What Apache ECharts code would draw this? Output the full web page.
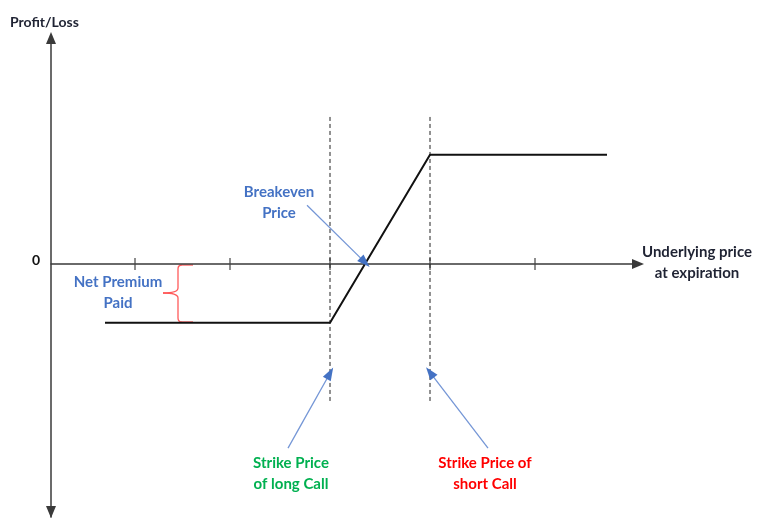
<!DOCTYPE html>
<html>
<head>
<meta charset="utf-8">
<script src="https://cdn.jsdelivr.net/npm/echarts@6/dist/echarts.min.js"></script>
<style>
  html, body { margin: 0; padding: 0; background: #fff; }
  #chart { width: 758px; height: 518px; }
</style>
</head>
<body>
<div id="chart"></div>
<script>
// 牛市看涨价差 payoff
const chart = echarts.init(document.getElementById('chart'));

// payoff line (price, profit/loss)
const payoffPrice = [35, 80, 100, 135.4];
const payoffPL = [-7, -7, 13, 13];
// unlabeled ticks on the price axis
const tickPrices = [41, 60, 80, 100, 121];
// strikes (dashed guides) and their vertical extent
const strikes = [80, 100];
const guideTop = 17.5;
const guideBottom = -16.4;
const breakeven = 87;

const FONT = 'Lato';
const BLUE = '#4472c4';

const payoffData = payoffPrice.map((p, i) => [p, payoffPL[i]]);
const tickData = tickPrices.map(p => [p, 0]);

// annotation arrows: [from, to] in data space
const arrows = [
  [[75.4, 7.0], [breakeven, 0.2]],
  [[71.6, -21.9], [strikes[0], -13.0]],
  [[111.6, -21.9], [strikes[1], -12.9]]
];
const arrowData = arrows.map(a => [{ coord: a[0] }, { coord: a[1] }]);

const guideSeries = strikes.map(k => ({
  type: 'line',
  data: [[k, guideTop], [k, guideBottom]],
  symbol: 'none',
  silent: true,
  lineStyle: { color: '#222', width: 1, type: [4, 3] }
}));

// shafts (light) and heads (darker) drawn as two markLines
const shaftLine = {
  symbol: ['none', 'none'],
  silent: true,
  label: { show: false },
  lineStyle: { color: '#7a9ad8', width: 1.3, type: 'solid' },
  data: arrowData
};
const headLine = {
  symbol: ['none', 'triangle'],
  symbolSize: [9, 13],
  silent: true,
  label: { show: false },
  lineStyle: { color: BLUE, width: 0.1, type: 'solid' },
  data: arrowData
};

const braceStyle = { stroke: '#ff5a5a', lineWidth: 1.3, fill: 'none' };
const brace = [
  { type: 'line', shape: { x1: 193, y1: 265, x2: 182, y2: 265 } },
  { type: 'bezierCurve', shape: { x1: 182, y1: 265, cpx1: 178, cpy1: 265, x2: 178, y2: 269 } },
  { type: 'line', shape: { x1: 178, y1: 269, x2: 178, y2: 288 } },
  { type: 'bezierCurve', shape: { x1: 178, y1: 288, cpx1: 178, cpy1: 293, x2: 163, y2: 293 } },
  { type: 'bezierCurve', shape: { x1: 163, y1: 293, cpx1: 178, cpy1: 293, x2: 178, y2: 298 } },
  { type: 'line', shape: { x1: 178, y1: 298, x2: 178, y2: 318 } },
  { type: 'bezierCurve', shape: { x1: 178, y1: 318, cpx1: 178, cpy1: 322, x2: 182, y2: 322 } },
  { type: 'line', shape: { x1: 182, y1: 322, x2: 193, y2: 322 } }
].map(el => Object.assign(el, { style: braceStyle, silent: true }));

function label(text, x, y, color, size) {
  return {
    type: 'text', x: x, y: y, silent: true,
    style: {
      text: text, font: 'bold ' + size + 'px ' + FONT, lineHeight: 21,
      fill: color, align: 'center', verticalAlign: 'middle'
    }
  };
}

const option = {
  animation: false,
  grid: { left: 51, top: 43, width: 582, height: 474 },
  xAxis: {
    type: 'value',
    min: 24.2,
    max: 140.6,
    axisLine: {
      show: true,
      onZero: true,
      symbol: ['none', 'triangle'],
      symbolSize: [10, 12],
      symbolOffset: [0, 5],
      lineStyle: { color: '#3a3a3a', width: 1.5 }
    },
    axisTick: { show: false },
    axisLabel: { show: false },
    splitLine: { show: false }
  },
  yAxis: {
    type: 'value',
    min: -30.1,
    max: 26.3,
    axisLine: {
      show: true,
      symbol: ['triangle', 'triangle'],
      symbolSize: [10, 12],
      symbolOffset: [5, 5],
      lineStyle: { color: '#3a3a3a', width: 1.5 }
    },
    axisTick: { show: false },
    axisLabel: { show: false },
    splitLine: { show: false }
  },
  series: [
    ...guideSeries,
    {
      type: 'scatter',
      data: tickData,
      symbol: 'rect',
      symbolSize: [1.5, 12],
      silent: true,
      itemStyle: { color: '#444' },
      markLine: shaftLine
    },
    {
      type: 'line',
      data: payoffData,
      symbol: 'none',
      silent: true,
      lineStyle: { color: '#111', width: 2 },
      markLine: headLine
    }
  ],
  graphic: [
    {
      type: 'text', x: 10, y: 22, silent: true,
      style: { text: 'Profit/Loss', font: 'bold 14px ' + FONT, fill: '#1f2333', verticalAlign: 'middle' }
    },
    label('0', 36, 260, '#111', 14),
    label('Underlying price\nat expiration', 697, 263, '#1f2333', 15),
    label('Breakeven\nPrice', 279, 203, BLUE, 15),
    label('Net Premium\nPaid', 118, 293, BLUE, 15),
    label('Strike Price\nof long Call', 291, 474, '#00b050', 15),
    label('Strike Price of\nshort Call', 485, 474, '#ff0000', 15),
    ...brace
  ]
};
chart.setOption(option);

window.onresize = function() {
  chart.resize();
};
</script>
</body>
</html>
